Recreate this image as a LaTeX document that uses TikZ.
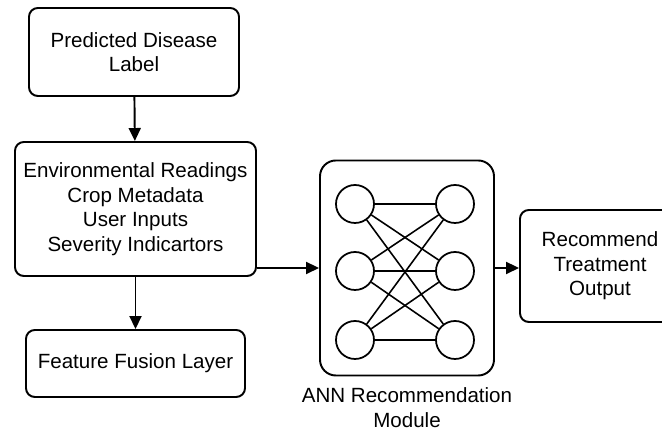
\documentclass[tikz,border=0pt]{standalone}
\usepackage{fontspec}
\setmainfont{Liberation Sans}
\usetikzlibrary{arrows.meta,positioning}

\begin{document}
\begin{tikzpicture}[
    >={Triangle[length=2.6mm,width=2.4mm]},
    font=\fontsize{11.7}{14}\selectfont,
    block/.style={draw=black, fill=white, rounded corners=5pt,
                  line width=1.1pt, align=center, inner sep=2pt},
    annbox/.style={draw=black, rounded corners=9pt, line width=1.1pt,
                   minimum width=3.48cm, minimum height=4.3cm},
    neuron/.style={circle, draw=black, line width=1pt,
                   minimum size=0.76cm, inner sep=0pt},
    lab/.style={align=center, inner sep=1pt},
    e/.style={->, line width=1.1pt, draw=black},
  ]
    \useasboundingbox (0,0) rectangle (13.24,8.76);
    % --- input side -------------------------------------------------------
    \node[block, minimum width=4.2cm, minimum height=1.76cm]
          (pred) at (2.68,7.72) {Predicted Disease\\Label};
    \node[block, minimum width=4.82cm, minimum height=2.68cm]
          (ctx)  at (2.71,4.58) {Environmental Readings\\Crop Metadata\\User Inputs\\Severity Indicartors};
    \node[block, minimum width=4.38cm, minimum height=1.34cm]
          (fus)  at (2.71,1.49) {Feature Fusion Layer};
    % --- ANN module -------------------------------------------------------
    \node[annbox] (ann) at (8.14,3.4) {};
    \node[neuron] (l1) at (7.1,4.68) {};
    \node[neuron] (l2) at (7.1,3.34) {};
    \node[neuron] (l3) at (7.1,1.96) {};
    \node[neuron] (r1) at (9.1,4.68) {};
    \node[neuron] (r2) at (9.1,3.34) {};
    \node[neuron] (r3) at (9.1,1.96) {};
    \foreach \i in {1,2,3}
      \foreach \j in {1,2,3}
        \draw[line width=0.9pt] (l\i) -- (r\j);
    \node[lab, below=0.18cm of ann] (annlab) {ANN Recommendation\\Module};
    % --- output -----------------------------------------------------------
    \node[block, minimum width=3.2cm, minimum height=2.24cm]
          (out) at (12.0,3.44) {Recommend\\Treatment\\Output};
    % --- edges ------------------------------------------------------------
    \draw[e] (pred) -- (ctx);
    \draw[e] (ctx) -- (fus);
    \draw[e] (ctx.east |- ann.west) -- (ann.west);
    \draw[e] (ann.east) -- (out.west |- ann.east);
\end{tikzpicture}
\end{document}
